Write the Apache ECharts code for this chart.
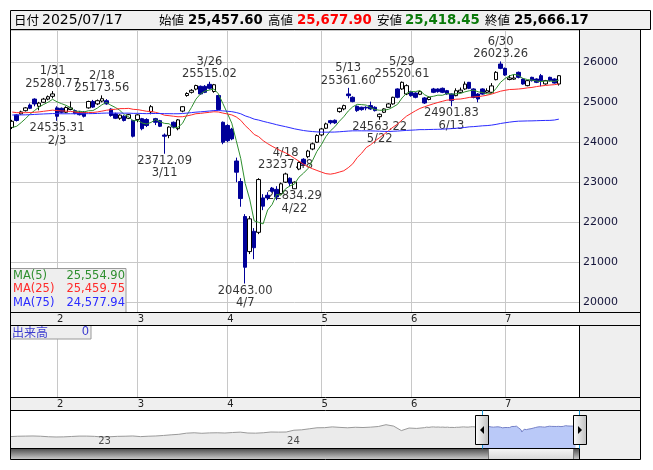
<!DOCTYPE html>
<html><head><meta charset="utf-8">
<script src="https://cdn.jsdelivr.net/npm/echarts@6/dist/echarts.min.js"></script>
<style>html,body{margin:0;padding:0;background:#fff}#c{width:653px;height:470px}</style>
</head><body><div id="c"></div>
<script>
// ---------- data ----------
const dates = ['2025/01/20','2025/01/21','2025/01/22','2025/01/23','2025/01/24','2025/01/27','2025/01/28','2025/01/29','2025/01/30','2025/01/31',
'2025/02/03','2025/02/04','2025/02/05','2025/02/06','2025/02/07','2025/02/10','2025/02/12','2025/02/13','2025/02/14','2025/02/17','2025/02/18','2025/02/19','2025/02/20','2025/02/21','2025/02/25','2025/02/26','2025/02/27','2025/02/28',
'2025/03/03','2025/03/04','2025/03/05','2025/03/06','2025/03/07','2025/03/10','2025/03/11','2025/03/12','2025/03/13','2025/03/14','2025/03/17','2025/03/18','2025/03/19','2025/03/21','2025/03/24','2025/03/25','2025/03/26','2025/03/27','2025/03/28','2025/03/31',
'2025/04/01','2025/04/02','2025/04/03','2025/04/04','2025/04/07','2025/04/08','2025/04/09','2025/04/10','2025/04/11','2025/04/14','2025/04/15','2025/04/16','2025/04/17','2025/04/18','2025/04/21','2025/04/22','2025/04/23','2025/04/24','2025/04/25','2025/04/28','2025/04/30',
'2025/05/01','2025/05/02','2025/05/07','2025/05/08','2025/05/09','2025/05/12','2025/05/13','2025/05/14','2025/05/15','2025/05/16','2025/05/19','2025/05/20','2025/05/21','2025/05/22','2025/05/23','2025/05/26','2025/05/27','2025/05/28','2025/05/29','2025/05/30',
'2025/06/02','2025/06/03','2025/06/04','2025/06/05','2025/06/06','2025/06/09','2025/06/10','2025/06/11','2025/06/12','2025/06/13','2025/06/16','2025/06/17','2025/06/18','2025/06/19','2025/06/20','2025/06/23','2025/06/24','2025/06/25','2025/06/26','2025/06/27','2025/06/30',
'2025/07/01','2025/07/02','2025/07/03','2025/07/04','2025/07/07','2025/07/08','2025/07/09','2025/07/10','2025/07/11','2025/07/14','2025/07/15','2025/07/16','2025/07/17'];

const opens = [24370,24685,24710,24790,24930,25080,24900,25000,25080,25150,
24860,24850,24750,24820,24790,24750,24750,24860,25020,24960,25030,25040,24830,24710,24600,24650,24600,24545,
24570,24590,24570,24760,24590,24540,24180,24170,24500,24340,24780,25170,25250,25330,25400,25400,25450,25270,25170,24500,
24420,24330,23530,23016,22140,21262,21770,21745,22606,22672,22852,22820,22713,23000,23098,22836,23328,23574,23640,23830,24000,
24183,24350,24540,24550,24767,24834,25208,25125,24900,24875,24875,24917,24875,24640,24750,24875,24959,25334,25334,25208,
25267,25230,25200,25109,25070,25334,25334,25350,25292,25208,25167,25250,25334,25500,25334,25208,25334,25250,25250,25567,25958,
25850,25570,25580,25750,25583,25417,25625,25583,25667,25460,25625,25583,25457.60];

const highs = [24560,24700,24790,24880,24970,25100,25010,25110,25170,25280.77,
24900,24870,24900,25020,24820,24780,24780,25040,25060,25070,25173.56,25080,24850,24740,24700,24680,24710,24560,
24700,24610,24600,24930,24610,24560,24220,24400,24520,24580,24900,25250,25330,25440,25420,25430,25515.02,25460,25190,24520,
24450,24360,23615,23100,22200,22150,21850,23100,22700,22750,22880,22900,22990,23237.48,23120,23020,23520,23600,23810,23990,24200,
24360,24490,24560,24570,24870,24940,25361.60,25150,24920,24890,24900,25017,24900,24720,24850,24980,25140,25350,25520.61,25450,
25290,25250,25290,25130,25150,25360,25350,25370,25310,25220,25350,25370,25520,25510,25350,25230,25350,25350,25480,25780,26023.26,
25870,25680,25690,25770,25600,25560,25640,25600,25710,25560,25640,25600,25677.90];

const lows = [24330,24520,24690,24770,24830,24900,24800,24980,25050,25100,
24535.31,24720,24730,24800,24700,24670,24620,24840,24860,24930,25000,24940,24640,24580,24560,24520,24580,24120,
24500,24300,24380,24700,24430,24380,23712.09,24100,24350,24300,24750,25140,25220,25300,25190,25230,25320,25240,24800,23950,
24000,24050,23000,22385,20463.00,21200,21073,21700,22300,22550,22740,22550,22690,22980,22900,22834.29,23300,23420,23600,23800,23980,
24150,24330,24450,24460,24740,24800,25100,25000,24760,24790,24800,24810,24770,24563.22,24730,24860,24940,25100,25310,25180,
25140,25100,25180,24960,25050,25230,25240,25230,25190,24901.83,25150,25230,25310,25330,25100,25000,25190,25230,25230,25550,25830,
25660,25550,25560,25600,25440,25400,25520,25480,25400,25440,25520,25470,25418.45];

const closes = [24525,24545,24760,24860,24850,24960,24980,25080,25140,25210,
24650,24750,24870,24860,24720,24690,24650,25020,24880,25040,25090,24960,24670,24600,24680,24545,24690,24150,
24685,24340,24420,24890,24500,24400,24150,24380,24380,24560,24890,25220,25300,25420,25210,25250,25350,25440,24820,24000,
24040,24084,23250,22590,20870,22082,21360,23066,22400,22606,22770,22630,22960,23205,22974,23000,23492,23451,23780,23960,24170,
24333,24459,24490,24484,24850,24917,25167,25017,24792,24817,24856.75,24834,24792,24700,24834,24959,25125,25125,25500,25417,
25167,25125,25267,24983,25125,25250,25267,25250,25209,25042,25290,25305,25455,25350,25120,25083,25205,25290,25410,25750,25850,
25683,25610,25609.25,25625,25458,25542,25542,25500,25542,25542,25542,25482.33,25666.17];

// closes of the 74 sessions before the first visible day (only feed the moving averages / navigator)
const prevCloses = [24550,24620,24700,24580,24480,24520,24650,24760,24820,24900,24950,24880,24800,24760,24700,24650,24720,24810,24760,24690,24640,24600,24700,24750,24680,24620,24560,24600,24700,24680,
24600,24520,24450,24380,24420,24500,24560,24480,24400,24450,24520,24600,24560,24530,24600,24650,
24720,24780,24850,24890,
24900,24850,24780,24760,24820,24740,24700,24780,24850,24920,24960,25000,25050,25100,25020,
24850,24800,24850,24700,24600,
24400,24300,24350,24280];

// navigator history: one reading every 10 sessions, starting 615 sessions before the first visible day
const navHistory = [17300,17600,17700,17800,17600,17200,17000,17100,17400,17700,
17700,17500,17000,17200,17500,17600,17800,17300,17600,17800,
18200,18700,19100,20000,20300,19900,20200,20300,20100,20500,
20800,20100,20000,20300,20900,20800,20900,22300,22600,23400,
24200,24300,24900,24500,24200,24600,24400,24700,25200,26600,
25500,22000,24000,23700,24300];
const navStart = -615, navStepDays = 10;
const navYears = [['23', -500], ['24', -254]];   // year starts, in sessions before first visible day

const annotations = [['2025/01/31','high'],['2025/02/03','low'],['2025/02/18','high'],['2025/03/11','low'],
['2025/03/26','high'],['2025/04/07','low'],['2025/04/18','high'],['2025/04/22','low'],['2025/05/13','high'],
['2025/05/22','low'],['2025/05/29','high'],['2025/06/13','low'],['2025/06/30','high']];

const maPeriods = [5, 25, 75];
const maColors = ['#2f8f2f', '#ff2a2a', '#2a2aff'];
const lastVolume = 0;

// ---------- helpers ----------
const N = dates.length;
const pad = 4;
const cats = dates.concat(Array.from({length: pad}, (_, k) => ' '.repeat(k + 1)));
const monthOf = d => +d.split('/')[1];
const isMonthStart = i => i > 0 && i < N && monthOf(dates[i]) !== monthOf(dates[i - 1]);
const allCloses = prevCloses.concat(closes);
function ma(n) {
  return closes.map((_, i) => {
    const end = i + prevCloses.length; let s = 0;
    for (let k = end - n + 1; k <= end; k++) s += allCloses[k];
    return s / n;
  });
}
const maData = maPeriods.map(ma);
const fmt = v => { const [a, b] = v.toFixed(2).split('.'); return a.replace(/\B(?=(\d{3})+(?!\d))/g, ',') + '.' + b; };
const FONT = "'DejaVu Sans', sans-serif";
const CJK = "'Noto Sans CJK JP', sans-serif";
const GRID = '#c8c8c8';

const annData = annotations.map(([d, t]) => {
  const i = dates.indexOf(d);
  const v = t === 'high' ? highs[i] : lows[i];
  const [, m, dd] = d.split('/');
  const md = (+m) + '/' + (+dd);
  return {
    value: [i, v],
    label: { position: t === 'high' ? 'top' : 'bottom',
             formatter: t === 'high' ? md + '\n' + v.toFixed(2) : v.toFixed(2) + '\n' + md }
  };
});

const navGray = navHistory.map((v, k) => [navStart + k * navStepDays, v])
  .concat(prevCloses.map((v, k) => [-prevCloses.length + k, v]))
  .concat([[0, closes[0]]]);
const navBlue = closes.map((v, i) => [i, v]);

const catAxis = (gridIndex) => ({
  type: 'category', gridIndex, data: cats, boundaryGap: true,
  axisLine: { show: false }, axisTick: { show: false, alignWithLabel: true },
  axisLabel: { interval: (i) => isMonthStart(i), formatter: (v, i) => isMonthStart(i) ? String(monthOf(v)) : '',
               align: 'left', margin: 2, fontSize: 10, color: '#222', fontFamily: FONT },
  splitLine: { show: true, interval: (i) => isMonthStart(i), alignWithLabel: true, lineStyle: { color: GRID, width: 1 } }
});

const chart = echarts.init(document.getElementById('c'), null, { renderer: 'canvas', width: 653, height: 470 });
chart.setOption({
  animation: false,
  grid: [
    { left: 10, top: 30, width: 569, height: 282, show: true, backgroundColor: '#fff', borderWidth: 0 },
    { left: 10, top: 325, width: 569, height: 72, show: true, backgroundColor: '#fff', borderWidth: 0 },
    { left: 10, top: 410, width: 569, height: 38, show: true, backgroundColor: '#fff', borderWidth: 0 }
  ],
  xAxis: [
    catAxis(0), catAxis(1),
    { type: 'value', gridIndex: 2, min: navStart, max: N + pad - 0.5, show: false }
  ],
  yAxis: [
    { type: 'value', gridIndex: 0, position: 'right', min: 19750, max: 26810, splitNumber: 7,
      axisLine: { show: false }, axisTick: { show: false },
      axisLabel: { formatter: v => (Math.abs(v % 1000) < 1e-6 ? String(v) : ''), fontSize: 11, color: '#14143a', fontFamily: FONT, margin: 4 },
      splitLine: { show: true, lineStyle: { color: GRID, width: 1 } } },
    { type: 'value', gridIndex: 1, min: 0, max: 1, show: false, splitLine: { show: false } },
    { type: 'value', gridIndex: 2, min: 8400, max: 38100, show: false, splitLine: { show: false } }
  ],
  series: [
    { type: 'scatter', xAxisIndex: 0, yAxisIndex: 0, symbolSize: 0, z: 1, silent: true, data: annData,
      label: { show: true, distance: 1, fontSize: 11.5, lineHeight: 12.5, color: '#000', fontFamily: FONT, align: 'center' } },
    { type: 'candlestick', xAxisIndex: 0, yAxisIndex: 0, z: 3, barWidth: 4,
      data: dates.map((d, i) => [opens[i], closes[i], lows[i], highs[i]]),
      itemStyle: { color: '#ffffff', color0: '#000099', borderColor: '#000000', borderColor0: '#000099', borderWidth: 1 } },
    ...maData.map((arr, k) => ({
      type: 'line', xAxisIndex: 0, yAxisIndex: 0, z: 4, data: arr, showSymbol: false, symbol: 'none',
      lineStyle: { color: maColors[k], width: 1 }, silent: true })),
    { type: 'line', xAxisIndex: 2, yAxisIndex: 2, data: navGray, showSymbol: false, symbol: 'none', silent: true,
      lineStyle: { color: '#9a9a9a', width: 1 }, areaStyle: { color: '#ebebeb', origin: 'start', opacity: 1 } },
    { type: 'line', xAxisIndex: 2, yAxisIndex: 2, data: navBlue, showSymbol: false, symbol: 'none', silent: true,
      lineStyle: { color: '#7682c8', width: 1 }, areaStyle: { color: '#bac9f8', origin: 'start', opacity: 1 } },
    { type: 'scatter', xAxisIndex: 2, yAxisIndex: 2, symbolSize: 0, silent: true, z: 5,
      data: navYears.map(([t, x]) => ({ name: t, value: [x, 8400] })),
      label: { show: true, formatter: p => p.name, position: [0, -7], align: 'left', verticalAlign: 'middle',
               fontSize: 10, color: '#222', fontFamily: FONT } }
  ]
});

// ---------- decorations (frames, header, legends, navigator handles) ----------
const G = [];
const ln = (x1, y1, x2, y2, c, z) => G.push({ type: 'line', silent: true, z: z || 50, shape: { x1, y1, x2, y2 }, style: { stroke: c || '#000', lineWidth: 1 } });
const rc = (x, y, w, h, fill, stroke, z) => G.push({ type: 'rect', silent: true, z: z == null ? 40 : z, shape: { x, y, width: w, height: h }, style: { fill, stroke: stroke || null, lineWidth: 1 } });
const tx = (x, y, t, fill, font, align, z) => G.push({ type: 'text', silent: true, z: z || 60, x, y,
  style: { text: t, fill, font, align: align || 'left', verticalAlign: 'middle', textAlign: align || 'left', textVerticalAlign: 'middle' } });

rc(10.5, 29.5, 630, 430, '#efefef', null, -10);          // panel background
rc(10.5, 10.5, 640, 19, '#f0f0f0', '#000', 45);          // header box
// frame lines
ln(10.5, 29.5, 640.5, 29.5); ln(10.5, 312.5, 640.5, 312.5); ln(10.5, 325.5, 640.5, 325.5);
ln(10.5, 397.5, 640.5, 397.5); ln(10.5, 410.5, 640.5, 410.5); ln(10.5, 459.5, 640.5, 459.5);
ln(10.5, 448.5, 579.5, 448.5);
ln(10.5, 29.5, 10.5, 459.5); ln(640.5, 29.5, 640.5, 459.5);
ln(579.5, 29.5, 579.5, 312.5); ln(579.5, 325.5, 579.5, 397.5); ln(579.5, 410.5, 579.5, 459.5);

// header
const L = N - 1;
const hf = 'bold 13.3px ' + FONT, cf = '12.5px ' + CJK;
tx(14, 20.5, '日付', '#000', cf);
tx(42, 20.5, dates[L], '#000', '14px ' + FONT);
tx(159, 20.5, '始値', '#000', cf); tx(188, 20.5, fmt(opens[L]), '#000', hf);
tx(268, 20.5, '高値', '#000', cf); tx(297, 20.5, fmt(highs[L]), '#ff0000', hf);
tx(377, 20.5, '安値', '#000', cf); tx(405, 20.5, fmt(lows[L]), '#0a7a0a', hf);
tx(485, 20.5, '終値', '#000', cf); tx(514, 20.5, fmt(closes[L]), '#000', hf);

// MA legend box
rc(10.5, 268.5, 115.5, 44, '#eeeeee', '#9a9a9a', 45);
const mf = '11.5px ' + FONT;
maPeriods.forEach((p, k) => {
  const y = 276 + k * 13.5;
  tx(13, y, 'MA(' + p + ')', maColors[k], mf);
  tx(125, y, fmt(maData[k][L]), maColors[k], mf, 'right');
});

// volume label box
rc(10.5, 325.5, 80.5, 13.5, '#eeeeee', '#9a9a9a', 45);
tx(12, 332.5, '出来高', '#3b3bcf', '12px ' + CJK);
tx(89, 332.5, String(lastVolume), '#3b3bcf', mf, 'right');

// navigator handles & scrollbar, placed from the navigator axis
const hx1 = chart.convertToPixel({ xAxisIndex: 2, yAxisIndex: 2 }, [-0.5, 8400])[0];
const hx2 = chart.convertToPixel({ xAxisIndex: 2, yAxisIndex: 2 }, [N + pad - 0.5, 8400])[0];
const hw = 13;
rc(10.5, 448.5, 569, 11, { type: 'linear', x: 0, y: 0, x2: 0, y2: 1, colorStops: [{ offset: 0, color: '#4c4c4c' }, { offset: 1, color: '#cfcfcf' }] }, null, 41);
rc(Math.round(hx1 + hw / 2) + 0.5, 448.5, Math.round(hx2 - hw / 2) - Math.round(hx1 + hw / 2), 11,
   { type: 'linear', x: 0, y: 0, x2: 0, y2: 1, colorStops: [{ offset: 0, color: '#f7f7f7' }, { offset: 1, color: '#d6d6d6' }] }, '#777', 42);
[hx1, hx2].forEach((hx, k) => {
  const cx = Math.round(hx) + 0.5;
  ln(cx, 410.5, cx, 448.5, '#1e9bd7', 55);
  rc(Math.round(hx - hw / 2) + 0.5, 415.5, hw, 29,
     { type: 'linear', x: 0, y: 0, x2: 1, y2: 0, colorStops: [{ offset: 0, color: '#ffffff' }, { offset: 1, color: '#bdbdbd' }] }, '#000', 58);
  const pts = k === 0 ? [[cx + 1.5, 426], [cx + 1.5, 434], [cx - 2.5, 430]] : [[cx - 1.5, 426], [cx - 1.5, 434], [cx + 2.5, 430]];
  G.push({ type: 'polygon', silent: true, z: 59, shape: { points: pts }, style: { fill: '#000' } });
});

chart.setOption({ graphic: { elements: G } });
</script>
</body></html>
